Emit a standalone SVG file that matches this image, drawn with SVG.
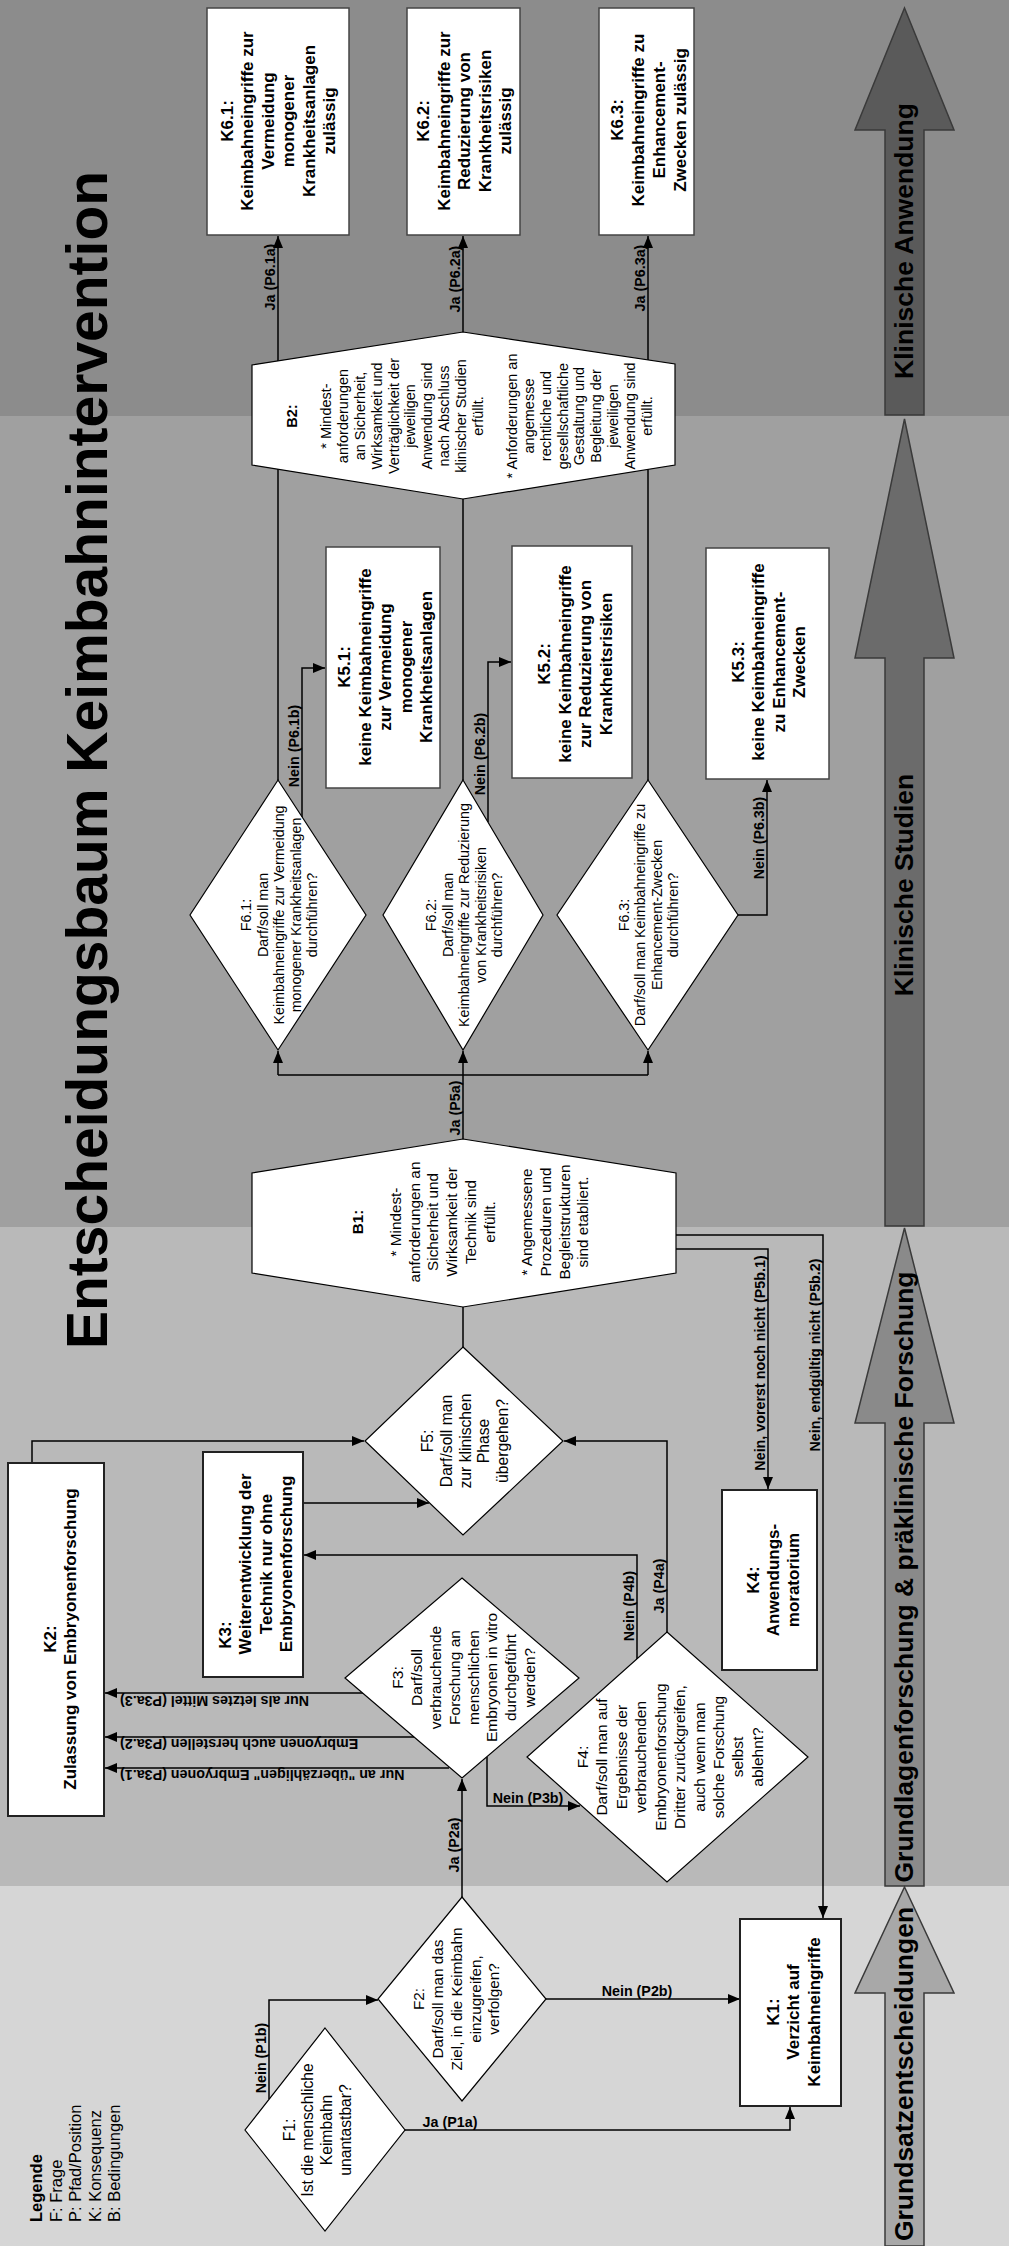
<svg xmlns="http://www.w3.org/2000/svg" width="1009" height="2246" viewBox="0 0 1009 2246">
<defs>
<marker id="ah" viewBox="0 0 12 10" refX="12" refY="5" markerWidth="12" markerHeight="10" markerUnits="userSpaceOnUse" orient="auto"><path d="M0,0L12,5L0,10z" fill="#000"/></marker>
<style>
text{font-family:"Liberation Sans",Arial,Helvetica,sans-serif;fill:#000}
.k{font-size:17px;font-weight:bold}
.q{font-size:14.3px}
.q2{font-size:15.5px}
.lb{font-size:14.3px;font-weight:bold}
.big{font-size:26.5px;font-weight:bold}
.ttl{font-size:57px;font-weight:bold}
.leg{font-size:16.5px}
.box{fill:#fff;stroke:#444;stroke-width:1.5}
.boxd{fill:#fff;stroke:#222;stroke-width:2}
.dia{fill:#fff;stroke:#000;stroke-width:1.2}
.con{fill:none;stroke:#000;stroke-width:1.5}
.arr{marker-end:url(#ah)}
.phase{stroke:#3a3a3a;stroke-width:1.5}
</style>
</defs>

<g id="bands">
<rect x="0" y="0" width="1009" height="416" fill="#8c8c8c"/>
<rect x="0" y="416" width="1009" height="811" fill="#a0a0a0"/>
<rect x="0" y="1227" width="1009" height="659" fill="#b9b9b9"/>
<rect x="0" y="1886" width="1009" height="360" fill="#d6d6d6"/>
</g>

<g id="phases">
<path class="phase" fill="#5a5a5a" d="M904.5,8 L954,130 L924,130 L924,415 L885,415 L885,130 L855,130 Z"/>
<path class="phase" fill="#6b6b6b" d="M904.5,419 L954,658 L924,658 L924,1226 L885,1226 L885,658 L855,658 Z"/>
<path class="phase" fill="#8a8a8a" d="M904.5,1228 L954,1423 L924,1423 L924,1886 L885,1886 L885,1423 L855,1423 Z"/>
<path class="phase" fill="#a8a8a8" d="M904.5,1887 L954,1993 L924,1993 L924,2246 L885,2246 L885,1993 L855,1993 Z"/>
<text class="big" text-anchor="middle" transform="translate(913,241) rotate(-90)">Klinische Anwendung</text>
<text class="big" text-anchor="middle" transform="translate(913,885) rotate(-90)">Klinische Studien</text>
<text class="big" text-anchor="middle" transform="translate(913,1577) rotate(-90)">Grundlagenforschung &amp; präklinische Forschung</text>
<text class="big" text-anchor="middle" transform="translate(913,2074) rotate(-90)">Grundsatzentscheidungen</text>
</g>

<g id="title">
<text class="ttl" text-anchor="middle" transform="translate(107,760) rotate(-90)">Entscheidungsbaum Keimbahnintervention</text>
</g>

<g id="legend">
<text class="leg" transform="translate(42,2222) rotate(-90)"><tspan x="0" y="0" font-weight="bold">Legende</tspan><tspan x="0" y="19.5">F: Frage</tspan><tspan x="0" y="39">P: Pfad/Position</tspan><tspan x="0" y="58.5">K: Konsequenz</tspan><tspan x="0" y="78">B: Bedingungen</tspan></text>
</g>

<g id="connectors">
<polyline class="con arr" points="405,2130 790,2130 790,2107"/>
<polyline class="con arr" points="269,2099 269,2000 378,2000"/>
<polyline class="con arr" points="546,1999 740,1999"/>
<polyline class="con arr" points="462,1897 462,1779"/>
<polyline class="con arr" points="449,1768 105,1768"/>
<polyline class="con arr" points="414,1737 105,1737"/>
<polyline class="con arr" points="363,1693 105,1693"/>
<polyline class="con arr" points="487,1757 487,1806 580,1806"/>
<polyline class="con arr" points="637,1659 637,1555 304,1555"/>
<polyline class="con arr" points="667,1632 667,1441 564,1441"/>
<polyline class="con arr" points="32,1463 32,1441 364,1441"/>
<polyline class="con arr" points="303,1503 429,1503"/>
<line class="con" x1="463" y1="1347" x2="463" y2="1307"/>
<polyline class="con arr" points="463,1139 463,1051"/>
<polyline class="con" points="278,1075 648,1075"/>
<polyline class="con arr" points="278,1075 278,1051"/>
<polyline class="con arr" points="648,1075 648,1051"/>
<polyline class="con arr" points="676,1249 768,1249 768,1489"/>
<polyline class="con arr" points="676,1235 823,1235 823,1918"/>
<polyline class="con arr" points="302,817 302,668 325,668"/>
<polyline class="con arr" points="488,822 488,662 511,662"/>
<polyline class="con arr" points="738,915 767,915 767,780"/>
<polyline class="con arr" points="278,780 278,236"/>
<polyline class="con arr" points="463,780 463,236"/>
<polyline class="con arr" points="648,780 648,236"/>

<text class="lb" text-anchor="middle" transform="translate(275,277) rotate(-90)">Ja (P6.1a)</text>
<text class="lb" text-anchor="middle" transform="translate(460,279) rotate(-90)">Ja (P6.2a)</text>
<text class="lb" text-anchor="middle" transform="translate(645,278) rotate(-90)">Ja (P6.3a)</text>
<text class="lb" text-anchor="middle" transform="translate(299,746) rotate(-90)">Nein (P6.1b)</text>
<text class="lb" text-anchor="middle" transform="translate(485,754) rotate(-90)">Nein (P6.2b)</text>
<text class="lb" text-anchor="middle" transform="translate(764,838) rotate(-90)">Nein (P6.3b)</text>
<text class="lb" text-anchor="middle" transform="translate(460,1108) rotate(-90)">Ja (P5a)</text>
<text class="lb" text-anchor="middle" transform="translate(765,1363) rotate(-90)">Nein, vorerst noch nicht (P5b.1)</text>
<text class="lb" text-anchor="middle" transform="translate(820,1355) rotate(-90)">Nein, endgültig nicht (P5b.2)</text>
<text class="lb" text-anchor="middle" transform="translate(634,1606) rotate(-90)">Nein (P4b)</text>
<text class="lb" text-anchor="middle" transform="translate(664,1586) rotate(-90)">Ja (P4a)</text>
<text class="lb" text-anchor="middle" transform="translate(459,1845) rotate(-90)">Ja (P2a)</text>
<text class="lb" text-anchor="middle" transform="translate(266,2058) rotate(-90)">Nein (P1b)</text>
<text class="lb" text-anchor="middle" x="450" y="2127">Ja (P1a)</text>
<text class="lb" text-anchor="middle" x="637" y="1996">Nein (P2b)</text>
<text class="lb" text-anchor="middle" x="528" y="1803">Nein (P3b)</text>
<text class="lb" text-anchor="end" transform="translate(120,1770) rotate(180)">Nur an "überzähligen" Embryonen (P3a.1)</text>
<text class="lb" text-anchor="end" transform="translate(120,1739) rotate(180)">Embryonen auch herstellen (P3a.2)</text>
<text class="lb" text-anchor="end" transform="translate(120,1696) rotate(180)">Nur als letztes Mittel (P3a.3)</text>
</g>

<g id="F1">
<polygon class="dia" points="325,2028 405,2130 325,2231 245,2130"/>
<text font-size="15.7" text-anchor="middle" transform="translate(317,2130) rotate(-90)"><tspan x="0" y="-22.5">F1:</tspan><tspan x="0" y="-3.9">Ist die menschliche</tspan><tspan x="0" y="14.9">Keimbahn</tspan><tspan x="0" y="33.6">unantastbar?</tspan></text>
</g>

<g id="F2">
<polygon class="dia" points="462,1897 546,1999 462,2101 378,1999"/>
<text font-size="15.3" text-anchor="middle" transform="translate(456.5,1999) rotate(-90)"><tspan x="0" y="-32.1">F2:</tspan><tspan x="0" y="-13.35">Darf/soll man das</tspan><tspan x="0" y="5.4">Ziel, in die Keimbahn</tspan><tspan x="0" y="24.15">einzugreifen,</tspan><tspan x="0" y="42.9">verfolgen?</tspan></text>
</g>

<g id="F3">
<polygon class="dia" points="462,1578 579,1678 462,1778 345,1678"/>
<text class="q2" text-anchor="middle" transform="translate(463.8,1677.5) rotate(-90)"><tspan x="0" y="-60.4">F3:</tspan><tspan x="0" y="-41.6">Darf/soll</tspan><tspan x="0" y="-22.8">verbrauchende</tspan><tspan x="0" y="-4">Forschung an</tspan><tspan x="0" y="14.8">menschlichen</tspan><tspan x="0" y="33.6">Embryonen in vitro</tspan><tspan x="0" y="52.4">durchgeführt</tspan><tspan x="0" y="71.2">werden?</tspan></text>
</g>

<g id="F4">
<polygon class="dia" points="667,1632 808,1757 667,1882 527,1757"/>
<text class="q2" text-anchor="middle" transform="translate(670,1757) rotate(-90)"><tspan x="0" y="-82.08">F4:</tspan><tspan x="0" y="-62.64">Darf/soll man auf</tspan><tspan x="0" y="-43.2">Ergebnisse der</tspan><tspan x="0" y="-23.76">verbrauchenden</tspan><tspan x="0" y="-4.32">Embryonenforschung</tspan><tspan x="0" y="15.12">Dritter zurückgreifen,</tspan><tspan x="0" y="34.56">auch wenn man</tspan><tspan x="0" y="54">solche Forschung</tspan><tspan x="0" y="73.44">selbst</tspan><tspan x="0" y="92.88">ablehnt?</tspan></text>
</g>

<g id="F5">
<polygon class="dia" points="463,1347 563,1441 463,1535 365,1441"/>
<text font-size="15.7" text-anchor="middle" transform="translate(465,1441) rotate(-90)"><tspan x="0" y="-32">F5:</tspan><tspan x="0" y="-13.25">Darf/soll man</tspan><tspan x="0" y="5.5">zur klinischen</tspan><tspan x="0" y="24.25">Phase</tspan><tspan x="0" y="43">übergehen?</tspan></text>
</g>

<g id="F6.1">
<polygon class="dia" points="278,780 366,915 278,1050 190,915"/>
<text class="q" text-anchor="middle" transform="translate(279,915) rotate(-90)"><tspan x="0" y="-28">F6.1:</tspan><tspan x="0" y="-11.5">Darf/soll man</tspan><tspan x="0" y="5">Keimbahneingriffe  zur Vermeidung</tspan><tspan x="0" y="21.5">monogener Krankheitsanlagen</tspan><tspan x="0" y="38">durchführen?</tspan></text>
</g>

<g id="F6.2">
<polygon class="dia" points="463,780 543,915 463,1050 383,915"/>
<text class="q" text-anchor="middle" transform="translate(464,915) rotate(-90)"><tspan x="0" y="-28">F6.2:</tspan><tspan x="0" y="-11.5">Darf/soll man</tspan><tspan x="0" y="5">Keimbahneingriffe zur Reduzierung</tspan><tspan x="0" y="21.5">von Krankheitsrisiken</tspan><tspan x="0" y="38">durchführen?</tspan></text>
</g>

<g id="F6.3">
<polygon class="dia" points="648,780 738,915 648,1050 557,915"/>
<text class="q" text-anchor="middle" transform="translate(648.5,915) rotate(-90)"><tspan x="0" y="-19.75">F6.3:</tspan><tspan x="0" y="-3.25">Darf/soll man Keimbahneingriffe zu</tspan><tspan x="0" y="13.25">Enhancement-Zwecken</tspan><tspan x="0" y="29.75">durchführen?</tspan></text>
</g>

<g id="B1">
<polygon class="dia" stroke-width="1.5" points="463,1139 676,1173 676,1273 463,1307 252,1273 252,1173"/>
<text font-size="15.3" text-anchor="middle" transform="translate(470.5,1222) rotate(-90)"><tspan x="0" y="-107.1" font-weight="bold">B1:</tspan><tspan x="0" y="-69.6">* Mindest-</tspan><tspan x="0" y="-50.85">anforderungen an</tspan><tspan x="0" y="-32.1">Sicherheit und</tspan><tspan x="0" y="-13.35">Wirksamkeit der</tspan><tspan x="0" y="5.4">Technik sind</tspan><tspan x="0" y="24.15">erfüllt.</tspan><tspan x="0" y="61.65">* Angemessene</tspan><tspan x="0" y="80.4">Prozeduren und</tspan><tspan x="0" y="99.15">Begleitstrukturen</tspan><tspan x="0" y="117.9">sind etabliert.</tspan></text>
</g>

<g id="B2">
<polygon class="dia" stroke-width="1.5" points="463,332 675,364 675,465 463,499 252,465 252,365"/>
<text font-size="14.5" text-anchor="middle" transform="translate(469.5,416) rotate(-90)"><tspan x="0" y="-172.35" font-weight="bold">B2:</tspan><tspan x="0" y="-138.55">* Mindest-</tspan><tspan x="0" y="-121.65">anforderungen</tspan><tspan x="0" y="-104.75">an Sicherheit,</tspan><tspan x="0" y="-87.85">Wirksamkeit und</tspan><tspan x="0" y="-70.95">Verträglichkeit der</tspan><tspan x="0" y="-54.05">jeweiligen</tspan><tspan x="0" y="-37.15">Anwendung sind</tspan><tspan x="0" y="-20.25">nach Abschluss</tspan><tspan x="0" y="-3.35">klinischer Studien</tspan><tspan x="0" y="13.55">erfüllt.</tspan><tspan x="0" y="47.35">* Anforderungen an</tspan><tspan x="0" y="64.25">angemesse</tspan><tspan x="0" y="81.15">rechtliche und</tspan><tspan x="0" y="98.05">gesellschaftliche</tspan><tspan x="0" y="114.95">Gestaltung und</tspan><tspan x="0" y="131.85">Begleitung der</tspan><tspan x="0" y="148.75">jeweiligen</tspan><tspan x="0" y="165.65">Anwendung sind</tspan><tspan x="0" y="182.55">erfüllt.</tspan></text>
</g>

<g id="K1">
<rect class="boxd" x="740" y="1919" width="101" height="187"/>
<text class="k" text-anchor="middle" transform="translate(793,2012) rotate(-90)"><tspan x="0" y="-14.5">K1:</tspan><tspan x="0" y="6">Verzicht auf</tspan><tspan x="0" y="26.5">Keimbahneingriffe</tspan></text>
</g>

<g id="K2">
<rect class="boxd" x="8" y="1463" width="96" height="353"/>
<text class="k" text-anchor="middle" transform="translate(60,1639) rotate(-90)"><tspan x="0" y="-4">K2:</tspan><tspan x="0" y="16">Zulassung von Embryonenforschung</tspan></text>
</g>

<g id="K3">
<rect class="boxd" x="203" y="1452" width="100" height="225"/>
<text class="k" text-anchor="middle" transform="translate(255.5,1564) rotate(-90)"><tspan x="-71" y="-24.5">K3:</tspan><tspan x="0" y="-4.2">Weiterentwicklung der</tspan><tspan x="0" y="16.2">Technik nur ohne</tspan><tspan x="0" y="36.5">Embryonenforschung</tspan></text>
</g>

<g id="K4">
<rect class="boxd" x="722" y="1490" width="95" height="180"/>
<text class="k" text-anchor="middle" transform="translate(773,1580) rotate(-90)"><tspan x="0" y="-14">K4:</tspan><tspan x="0" y="6">Anwendungs-</tspan><tspan x="0" y="26">moratorium</tspan></text>
</g>

<g id="K5.1">
<rect class="box" x="326" y="547" width="114" height="241"/>
<text class="k" text-anchor="middle" transform="translate(385,667) rotate(-90)"><tspan x="0" y="-35">K5.1:</tspan><tspan x="0" y="-14.5">keine Keimbahneingriffe</tspan><tspan x="0" y="6">zur Vermeidung</tspan><tspan x="0" y="26.5">monogener</tspan><tspan x="0" y="47">Krankheitsanlagen</tspan></text>
</g>

<g id="K5.2">
<rect class="box" x="512" y="546" width="120" height="232"/>
<text class="k" text-anchor="middle" transform="translate(575,664) rotate(-90)"><tspan x="0" y="-24.75">K5.2:</tspan><tspan x="0" y="-4.25">keine Keimbahneingriffe</tspan><tspan x="0" y="16.25">zur Reduzierung von</tspan><tspan x="0" y="36.75">Krankheitsrisiken</tspan></text>
</g>

<g id="K5.3">
<rect class="box" x="706" y="548" width="123" height="231"/>
<text class="k" text-anchor="middle" transform="translate(768.5,662) rotate(-90)"><tspan x="0" y="-24.75">K5.3:</tspan><tspan x="0" y="-4.25">keine Keimbahneingriffe</tspan><tspan x="0" y="16.25">zu Enhancement-</tspan><tspan x="0" y="36.75">Zwecken</tspan></text>
</g>

<g id="K6.1">
<rect class="box" x="207" y="8" width="142" height="227"/>
<text class="k" text-anchor="middle" transform="translate(278,121) rotate(-90)"><tspan x="0" y="-45.25">K6.1:</tspan><tspan x="0" y="-24.75">Keimbahneingriffe zur</tspan><tspan x="0" y="-4.25">Vermeidung</tspan><tspan x="0" y="16.25">monogener</tspan><tspan x="0" y="36.75">Krankheitsanlagen</tspan><tspan x="0" y="57.25">zulässig</tspan></text>
</g>

<g id="K6.2">
<rect class="box" x="407" y="8" width="113" height="227"/>
<text class="k" text-anchor="middle" transform="translate(464,121) rotate(-90)"><tspan x="0" y="-35">K6.2:</tspan><tspan x="0" y="-14.5">Keimbahneingriffe zur</tspan><tspan x="0" y="6">Reduzierung von</tspan><tspan x="0" y="26.5">Krankheitsrisiken</tspan><tspan x="0" y="47">zulässig</tspan></text>
</g>

<g id="K6.3">
<rect class="box" x="599" y="8" width="95" height="227"/>
<text class="k" text-anchor="middle" transform="translate(648,120) rotate(-90)"><tspan x="0" y="-25.5">K6.3:</tspan><tspan x="0" y="-4.5">Keimbahneingriffe zu</tspan><tspan x="0" y="16.5">Enhancement-</tspan><tspan x="0" y="37.5">Zwecken zulässig</tspan></text>
</g>
</svg>
